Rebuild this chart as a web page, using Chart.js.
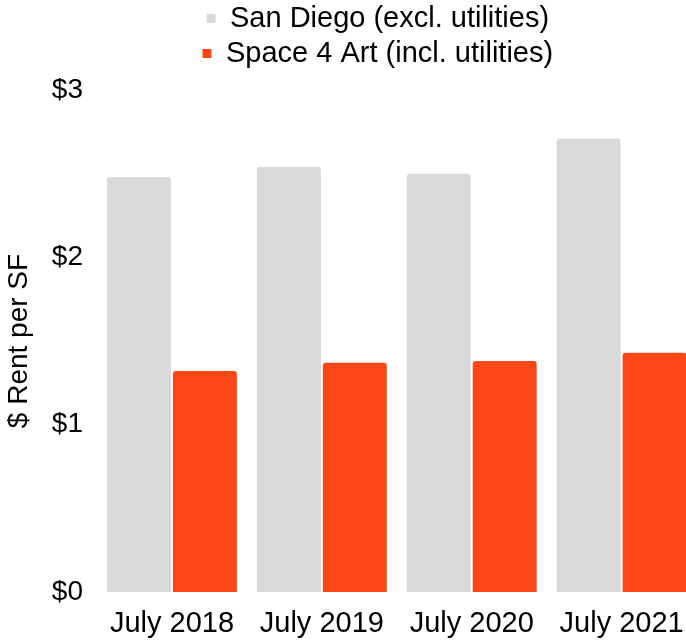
<!DOCTYPE html>
<html>
<head>
<meta charset="utf-8">
<script src="https://cdn.jsdelivr.net/npm/chart.js@4"></script>
<style>
  html, body { margin: 0; padding: 0; background: #fff; overflow: hidden; }
  #myChart { display: block; }
</style>
</head>
<body>
<canvas id="myChart" width="699" height="641"></canvas>
<script>
var labels = ["July 2018", "July 2019", "July 2020", "July 2021"];
var sanDiego = [2.48, 2.54, 2.50, 2.71];
var space4Art = [1.32, 1.37, 1.38, 1.43];
var yTicks = [0, 1, 2, 3];

var family = "'Liberation Sans', Arial, sans-serif";
var font = { family: family, size: 28 };
var bigFont = { family: family, size: 29 };

// nudge the legend rows to the left, like the original
var legendShift = {
    id: 'legendShift',
    afterLayout: function(chart) {
        chart.legend.left -= 19;
        chart.legend.right -= 19;
    }
};

var ctx = document.getElementById("myChart").getContext('2d');
var myChart = new Chart(ctx, {
    type: 'bar',
    data: {
        labels: labels,
        datasets: [{
            label: 'San Diego (excl. utilities)',
            data: sanDiego,
            backgroundColor: '#d9d9d9',
            borderRadius: 3,
            barPercentage: 0.97,
            categoryPercentage: 0.88
        }, {
            label: 'Space 4 Art (incl. utilities)',
            data: space4Art,
            backgroundColor: '#fe4716',
            borderRadius: 3,
            barPercentage: 0.97,
            categoryPercentage: 0.88
        }]
    },
    options: {
        responsive: false,
        animation: false,
        layout: { padding: { top: -2, left: 0, right: 0, bottom: 0 } },
        plugins: {
            legend: {
                position: 'top',
                fullSize: false,
                labels: {
                    font: bigFont,
                    color: '#000',
                    boxWidth: 9,
                    boxHeight: 9,
                    padding: 6
                }
            },
            // empty title used as a spacer between legend and plot
            title: {
                display: true,
                text: '',
                weight: 500,
                font: { size: 10 },
                padding: 0
            },
            tooltip: { enabled: false }
        },
        scales: {
            x: {
                grid: { display: false, drawTicks: false },
                border: { display: false },
                afterFit: function(axis) {
                    axis.height = 49;
                },
                ticks: { font: bigFont, color: '#000', padding: 15, maxRotation: 0 }
            },
            y: {
                min: 0,
                max: 3,
                grid: { display: false, drawTicks: false },
                border: { display: false },
                afterBuildTicks: function(axis) {
                    axis.ticks = yTicks.map(function(v) { return { value: v }; });
                },
                afterFit: function(axis) {
                    axis.width = 97;
                },
                ticks: {
                    font: font,
                    color: '#000',
                    padding: 14,
                    callback: function(value) { return '$' + value; }
                },
                title: {
                    display: true,
                    text: '$ Rent per SF',
                    font: font,
                    color: '#000',
                    padding: { top: 2, bottom: 0 }
                }
            }
        }
    },
    plugins: [legendShift]
});
</script>
</body>
</html>
